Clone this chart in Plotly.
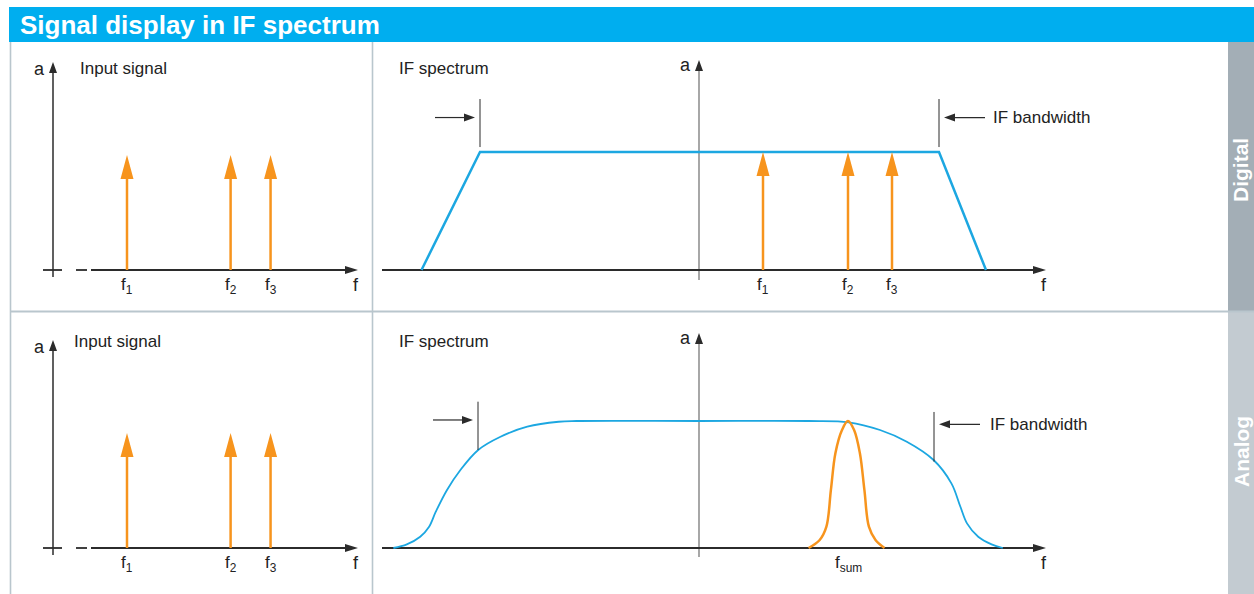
import plotly.graph_objects as go

W, H = 1254, 594

# ---------------- data ----------------
# Input signal panels: three spectral lines (arbitrary frequency units)
input_freqs = [1.0, 2.4, 2.94]
input_amps = [1.0, 1.0, 1.0]
input_labels = ["f<sub>1</sub>", "f<sub>2</sub>", "f<sub>3</sub>"]

# Digital IF spectrum: the same three lines inside the IF filter
if_freqs = [0.64, 1.49, 1.93]
if_amps = [1.0, 1.0, 1.0]

# Digital IF filter (trapezoid)
digital_filter_f = [-2.775, -2.19, 2.40, 2.87]
digital_filter_a = [0.0, 1.0, 1.0, 0.0]
digital_bw_edges = [-2.19, 2.40]

# Analog IF filter (rounded passband)
analog_filter_f = [-3.056, -2.922, -2.788, -2.699, -2.632, -2.52, -2.386, -2.208,
                   -1.985, -1.717, -1.404, -1.226, 0.0, 1.096, 1.498, 1.81, 2.078,
                   2.346, 2.524, 2.614, 2.68, 2.792, 2.926, 3.038]
analog_filter_a = [0.0, 0.029, 0.089, 0.168, 0.286, 0.457, 0.614, 0.772,
                   0.876, 0.955, 0.994, 1.0, 1.0, 1.0, 0.99, 0.929, 0.837,
                   0.693, 0.509, 0.325, 0.194, 0.089, 0.029, 0.0]
analog_bw_edges = [-2.21, 2.35]

# Analog: single smeared response at f_sum
fsum_f = [1.096, 1.207, 1.274, 1.319, 1.364, 1.43, 1.489, 1.551, 1.609, 1.654,
          1.699, 1.765, 1.855]
fsum_a = [0.0, 0.063, 0.168, 0.457, 0.746, 0.929, 1.0, 0.929, 0.746, 0.457,
          0.168, 0.063, 0.0]
fsum_center = 1.49

# ---------------- styles / layout ----------------
BLUE = "#1ca7e1"
ORANGE = "#f7941d"
HEADER = "#00aeef"
FRAME = "#b9c6cd"
DARK = "#2b2b2b"
AXGRAY = "#6d6d6d"
FONT = "Liberation Sans, Arial, sans-serif"

# panel boxes (pixels) with origin and pixel-per-unit scales
panels = {
    "TL": dict(n=1, box=(11, 42, 373, 311), origin=(53, 270), sx=74.0, sy=115.0,
               vtip=208, vbot=7),
    "TR": dict(n=2, box=(373, 42, 1228, 311), origin=(699, 270), sx=100.0, sy=118.0,
               vtip=210, vbot=10),
    "BL": dict(n=3, box=(11, 311, 373, 594), origin=(53, 548), sx=74.0, sy=115.0,
               vtip=208, vbot=7),
    "BR": dict(n=4, box=(373, 311, 1228, 594), origin=(699, 548), sx=100.0, sy=127.0,
               vtip=215, vbot=9),
}

fig = go.Figure()
layout_axes = {}
for key, p in panels.items():
    x0, y0, x1, y1 = p["box"]
    ox, oy = p["origin"]
    n = "" if p["n"] == 1 else str(p["n"])
    layout_axes["xaxis" + n] = dict(domain=[x0 / W, x1 / W],
                                    range=[(x0 - ox) / p["sx"], (x1 - ox) / p["sx"]],
                                    visible=False, fixedrange=True, anchor="y" + n)
    layout_axes["yaxis" + n] = dict(domain=[1 - y1 / H, 1 - y0 / H],
                                    range=[(oy - y1) / p["sy"], (oy - y0) / p["sy"]],
                                    visible=False, fixedrange=True, anchor="x" + n)
    p["xa"] = "x" + n
    p["ya"] = "y" + n


def dx(p, px):
    return px / p["sx"]


def dy(p, px):
    return px / p["sy"]


def head(p, x, y, direction, L, Wd):
    if direction == "up":
        b = y - dy(p, L)
        h = dx(p, Wd / 2)
        return [x - h, x, x + h, x - h, None], [b, y, b, b, None]
    if direction == "right":
        b = x - dx(p, L)
        h = dy(p, Wd / 2)
        return [b, x, b, b, None], [y - h, y, y + h, y - h, None]
    b = x + dx(p, L)
    h = dy(p, Wd / 2)
    return [b, x, b, b, None], [y - h, y, y + h, y - h, None]


def lines(p, xs, ys, color, width, shape="linear"):
    fig.add_trace(go.Scatter(x=xs, y=ys, mode="lines", xaxis=p["xa"], yaxis=p["ya"],
                             line=dict(color=color, width=width, shape=shape),
                             hoverinfo="skip", showlegend=False))


def fills(p, xs, ys, color):
    fig.add_trace(go.Scatter(x=xs, y=ys, mode="lines", fill="toself", fillcolor=color,
                             xaxis=p["xa"], yaxis=p["ya"], line=dict(width=0, color=color),
                             hoverinfo="skip", showlegend=False))


annotations = []


def text(p, x, y, s, size=17, xanchor="center", yanchor="middle", xshift=0, yshift=0,
         color="#222222"):
    annotations.append(dict(x=x, y=y, xref=p["xa"], yref=p["ya"], text=s, showarrow=False,
                            xanchor=xanchor, yanchor=yanchor, xshift=xshift, yshift=yshift,
                            font=dict(family=FONT, size=size, color=color)))


def axes(p, left_style):
    hx, hy = [], []
    # vertical axis
    vcol = DARK if left_style else AXGRAY
    vw = 1.5 if left_style else 1.2
    tip_v = dy(p, p["vtip"])
    lines(p, [0, 0], [-dy(p, p["vbot"]), tip_v - dy(p, 6)], vcol, vw)
    a, b = head(p, 0, tip_v, "up", 11, 8)
    hx += a; hy += b
    # horizontal axis
    if left_style:
        segs = [(-10, 9), (23, 34), (38, 294)]
        tip_h = dx(p, 305)
    else:
        segs = [(-317, 336)]
        tip_h = dx(p, 347)
    xs, ys = [], []
    for s0, s1 in segs:
        xs += [dx(p, s0), dx(p, s1), None]
        ys += [0, 0, None]
    lines(p, xs, ys, DARK, 1.8)
    a, b = head(p, tip_h, 0, "right", 13, 8)
    hx += a; hy += b
    fills(p, hx, hy, DARK)
    text(p, tip_h - dx(p, 2), 0, "f", size=18, yanchor="top", yshift=-3)
    text(p, 0, tip_v, "a", size=18, xanchor="right", yanchor="middle",
         xshift=-6, yshift=-7 if left_style else -5)


def spikes(p, freqs, amps, labels):
    xs, ys, hx, hy = [], [], [], []
    for f, a in zip(freqs, amps):
        xs += [f, f, None]
        ys += [0, a - dy(p, 20), None]
        tx, ty = head(p, f, a, "up", 24, 13)
        hx += tx; hy += ty
    lines(p, xs, ys, ORANGE, 2.5)
    fills(p, hx, hy, ORANGE)
    for f, lab in zip(freqs, labels):
        text(p, f, 0, lab, size=17, yanchor="top", yshift=-3)


def bandwidth(p, edges, mark_lo, mark_hi, arr_lo, arr_hi, label_dx):
    lo, hi = edges
    # marker bars
    lines(p, [lo, lo, None, hi, hi], [mark_lo[0], mark_lo[1], None, mark_hi[0], mark_hi[1]],
          DARK, 1.0)
    # arrows pointing at the band edges
    tl = lo - dx(p, 45)
    tipl = lo - dx(p, 5)
    tr = hi + dx(p, 46)
    tipr = hi + dx(p, 5)
    lines(p, [tl, tipl - dx(p, 8), None, tr, tipr + dx(p, 8)],
          [arr_lo, arr_lo, None, arr_hi, arr_hi], DARK, 1.2)
    a1, b1 = head(p, tipl, arr_lo, "right", 11, 8)
    a2, b2 = head(p, tipr, arr_hi, "left", 11, 8)
    fills(p, a1 + a2, b1 + b2, DARK)
    text(p, tr + dx(p, label_dx), arr_hi, "IF bandwidth", size=17, xanchor="left")


# ---- top left: input signal (digital row)
P = panels["TL"]
axes(P, True)
spikes(P, input_freqs, input_amps, input_labels)

# ---- bottom left: input signal (analog row)
P = panels["BL"]
axes(P, True)
spikes(P, input_freqs, input_amps, input_labels)

# ---- top right: digital IF spectrum
P = panels["TR"]
axes(P, False)
lines(P, digital_filter_f, digital_filter_a, BLUE, 2.5)
spikes(P, if_freqs, if_amps, input_labels)
bandwidth(P, digital_bw_edges, (1.042, 1.449), (1.042, 1.449), 1.292, 1.292, 6)

# ---- bottom right: analog IF spectrum
P = panels["BR"]
axes(P, False)
lines(P, analog_filter_f, analog_filter_a, BLUE, 1.8, shape="spline")
lines(P, fsum_f, fsum_a, ORANGE, 2.5, shape="spline")
text(P, fsum_center, 0, "f<sub>sum</sub>", size=17, yanchor="top", yshift=-3)
bandwidth(P, analog_bw_edges, (0.772, 1.152), (0.680, 1.071), 1.008, 0.974, 8)

# ---------------- frame, header, tabs ----------------
def px_x(v):
    return v / W


def px_y(v):
    return 1 - v / H


shapes = [
    dict(type="rect", xref="paper", yref="paper", x0=px_x(9), x1=px_x(1254),
         y0=px_y(42), y1=px_y(7), fillcolor=HEADER, line=dict(width=0), layer="below"),
    dict(type="rect", xref="paper", yref="paper", x0=px_x(1228), x1=px_x(1254),
         y0=px_y(311), y1=px_y(42), fillcolor="#a3aeb6", line=dict(width=0), layer="below"),
    dict(type="rect", xref="paper", yref="paper", x0=px_x(1228), x1=px_x(1254),
         y0=px_y(594), y1=px_y(311), fillcolor="#c3cbd1", line=dict(width=0), layer="below"),
    dict(type="line", xref="paper", yref="paper", x0=px_x(10.5), x1=px_x(10.5),
         y0=px_y(42), y1=px_y(594), line=dict(color=FRAME, width=1.6), layer="below"),
    dict(type="line", xref="paper", yref="paper", x0=px_x(372.5), x1=px_x(372.5),
         y0=px_y(42), y1=px_y(594), line=dict(color=FRAME, width=1.6), layer="below"),
    dict(type="line", xref="paper", yref="paper", x0=px_x(10.5), x1=px_x(1254),
         y0=px_y(311.5), y1=px_y(311.5), line=dict(color=FRAME, width=1.8), layer="below"),
]

paper_text = [
    dict(x=px_x(18), y=px_y(25), text="<b>Signal display in IF spectrum</b>",
         xanchor="left", yanchor="middle", font=dict(family=FONT, size=26, color="white")),
    dict(x=px_x(1241), y=px_y(170), text="<b>Digital</b>", textangle=-90,
         xanchor="center", yanchor="middle", font=dict(family=FONT, size=21, color="white")),
    dict(x=px_x(1241), y=px_y(452), text="<b>Analog</b>", textangle=-90,
         xanchor="center", yanchor="middle", font=dict(family=FONT, size=21, color="white")),
    dict(x=px_x(78), y=px_y(68), text="Input signal", xanchor="left", yanchor="middle",
         font=dict(family=FONT, size=17, color="#222222")),
    dict(x=px_x(72), y=px_y(341), text="Input signal", xanchor="left", yanchor="middle",
         font=dict(family=FONT, size=17, color="#222222")),
    dict(x=px_x(397), y=px_y(68), text="IF spectrum", xanchor="left", yanchor="middle",
         font=dict(family=FONT, size=17, color="#222222")),
    dict(x=px_x(397), y=px_y(341), text="IF spectrum", xanchor="left", yanchor="middle",
         font=dict(family=FONT, size=17, color="#222222")),
]
for t in paper_text:
    t.update(xref="paper", yref="paper", showarrow=False)

fig.update_layout(
    width=W, height=H, margin=dict(l=0, r=0, t=0, b=0),
    paper_bgcolor="white", plot_bgcolor="rgba(0,0,0,0)",
    showlegend=False, shapes=shapes, annotations=annotations + paper_text,
    **layout_axes,
)

fig.write_html("out.html", config=dict(displayModeBar=False, staticPlot=True),
               post_script="document.body.style.margin='0px';"
                           "document.body.style.overflow='hidden';")
